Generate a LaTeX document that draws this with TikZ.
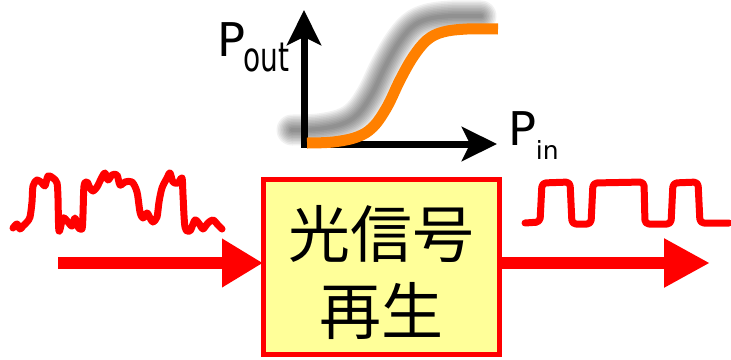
\documentclass[tikz,border=0pt]{standalone}
\usepackage{fontspec}
\setmainfont{DejaVu Sans}
\newfontfamily\cjkfont{Noto Sans CJK JP}
\usetikzlibrary{arrows.meta}
\definecolor{sigred}{RGB}{255,0,0}
\definecolor{curveorange}{RGB}{255,128,0}
\definecolor{boxfill}{RGB}{255,255,153}

\begin{document}
\begin{tikzpicture}[x=1pt,y=-1pt,
  signal/.style={sigred, line width=7pt, line cap=round, line join=round},
  flowarrow/.style={sigred, line width=12pt},
  axis/.style={black, line width=7pt,
    arrows={Stealth[length=35pt,width=34pt,inset=8pt]-Stealth[length=35pt,width=34pt,inset=8pt]}},
  bigP/.style={anchor=base west, inner sep=0pt, font=\fontsize{46.5pt}{46.5pt}\selectfont},
  subP/.style={anchor=base west, inner sep=0pt},
  blockbox/.style={draw=sigred, fill=boxfill, line width=5pt, inner sep=0pt, outer sep=0pt,
    minimum width=236.5pt, minimum height=175.5pt}
]
\useasboundingbox (0,0) rectangle (731,359);

% ---- transfer characteristic ----
% soft gray shadow of the curve, built from stacked translucent strokes
\foreach \w in {4,7,...,31}{
  \draw[black, opacity=0.055, line width=\w pt, line cap=round, line join=round, shift={(-15,-13)}]
    plot[smooth, tension=0.6] coordinates {(307,143) (333,142) (357,137) (373,127) (387,107)
      (400,80) (413,57) (427,40) (443,32) (467,29) (496,29)};
}
\coordinate (origin) at (304,144);
\coordinate (ytip) at (304,10);
\coordinate (xtip) at (497,144);
\draw[axis] (ytip) -- (origin) -- (xtip);

\draw[curveorange, line width=11pt]
  plot[smooth, tension=0.6] coordinates {(307,143) (333,142) (357,137) (373,127) (387,107)
    (400,80) (413,57) (427,40) (443,32) (467,29) (498,29)};

\node[bigP] (poutP) at (217,56.5) {P};
\node[subP, font=\fontsize{28pt}{28pt}\selectfont] (poutS) at (243.5,71) {\scalebox{1}[1.45]{out}};
\node[bigP] (pinP) at (508.5,145) {P};
\node[subP, font=\fontsize{25pt}{25pt}\selectfont] (pinS) at (535.7,159) {in};

% ---- regenerator block ----
\node[blockbox] (box) at (381.25,266.75) {};
\node[font=\cjkfont\fontsize{62pt}{77pt}\selectfont, align=center, inner sep=0pt, yshift=-6pt]
  (boxtext) at (box.center) {光信号\\再生};

% ---- input and output arrows ----
\coordinate (inStart) at (58,263);
\coordinate (outEnd) at (710,263);
\draw[flowarrow, -{Triangle[length=41pt,width=46pt]}] (inStart) -- (inStart -| box.west);
\draw[flowarrow, -{Triangle[length=46pt,width=46pt]}] (box.east |- outEnd) -- (outEnd);

% ---- degraded input pulses ----
\draw[signal] plot[smooth, tension=0.5] coordinates {
  (13,228) (17,224) (20,229) (23,226) (27,222) (30,217) (32,202) (33,186) (37,180)
  (42,183) (45,186) (48,176) (53,178) (57,183) (58,198) (59,231) (63,218) (68,222)
  (72,226) (75,218) (78,227) (82,229) (83,214) (84,186) (87,182) (90,188) (93,191)
  (97,187) (102,177) (105,173) (108,180) (112,175) (117,175) (120,185) (125,182)
  (132,182) (137,192) (140,212) (143,218) (147,213) (150,218) (153,222) (157,217)
  (159,202) (162,188) (167,178) (170,173) (173,182) (178,183) (182,178) (183,195)
  (185,227) (190,231) (195,220) (200,225) (203,229) (208,223) (213,220) (218,225) (222,229)};

% ---- regenerated output pulses ----
\draw[signal, rounded corners=4pt] (525,223) -- (540,222) -- (542,183) -- (570,182) -- (572,224)
  -- (591,224) -- (593,183) -- (644,182) -- (645,224) -- (671,224) -- (673,183) -- (698,182)
  -- (700,223) -- (729,223);
\end{tikzpicture}
\end{document}
